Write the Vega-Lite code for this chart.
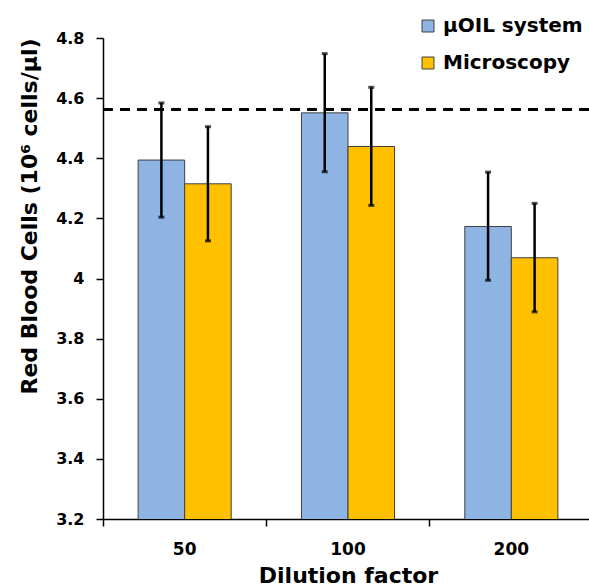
{
  "$schema": "https://vega.github.io/schema/vega-lite/v6.json",
  "width": 486,
  "height": 481,
  "autosize": {"type": "none"},
  "padding": {"left": 103, "top": 38, "right": 0, "bottom": 69},
  "config": {
    "font": "DejaVu Sans",
    "view": {"stroke": null},
    "axis": {"grid": false, "domainColor": "black", "tickColor": "black", "labelColor": "black", "titleColor": "black", "labelFontWeight": "bold", "titleFontWeight": "bold", "domainWidth": 1.5, "tickWidth": 1.5}
  },
  "datasets": {
    "bars": [
      {"dilution": "50", "method": "μOIL system", "value": 4.394, "lo": 4.204, "hi": 4.584},
      {"dilution": "50", "method": "Microscopy", "value": 4.315, "lo": 4.125, "hi": 4.505},
      {"dilution": "100", "method": "μOIL system", "value": 4.551, "lo": 4.355, "hi": 4.748},
      {"dilution": "100", "method": "Microscopy", "value": 4.439, "lo": 4.243, "hi": 4.636},
      {"dilution": "200", "method": "μOIL system", "value": 4.173, "lo": 3.994, "hi": 4.354},
      {"dilution": "200", "method": "Microscopy", "value": 4.069, "lo": 3.889, "hi": 4.25}
    ],
    "ref": [{"ref": 4.5625}]
  },
  "layer": [
    {
      "data": {"name": "bars"},
      "mark": {"type": "bar", "stroke": "#404040", "strokeWidth": 1, "clip": true},
      "encoding": {
        "x": {"field": "dilution", "type": "nominal", "sort": ["50", "100", "200"],
              "scale": {"paddingInner": 0, "paddingOuter": 0, "range": [0, 490]},
              "axis": {"orient": "bottom", "bandPosition": 0, "labels": false, "title": null, "ticks": true, "tickSize": 7, "domain": true}},
        "xOffset": {"field": "method", "type": "nominal", "sort": ["μOIL system", "Microscopy"],
                    "scale": {"paddingInner": 0, "paddingOuter": 0.755}},
        "y": {"field": "value", "type": "quantitative", "title": "Red Blood Cells (10⁶ cells/μl)",
              "scale": {"domain": [3.2, 4.8], "zero": false, "nice": false},
              "axis": {"values": [3.2, 3.4, 3.6, 3.8, 4, 4.2, 4.4, 4.6, 4.8], "format": "~g", "tickSize": 7, "labelPadding": 12, "labelFontSize": 16, "titleFontSize": 22, "titleAnchor": "end", "titlePadding": 14}},
        "color": {"field": "method", "type": "nominal", "sort": ["μOIL system", "Microscopy"],
                  "scale": {"domain": ["μOIL system", "Microscopy"], "range": ["#8EB4E3", "#FFC000"]},
                  "legend": {"orient": "none", "legendX": 315, "legendY": -22, "title": null, "symbolType": "square", "symbolSize": 144, "symbolStrokeColor": "#404040", "symbolStrokeWidth": 1, "symbolOpacity": 1, "labelFontSize": 20, "labelFontWeight": "bold", "labelColor": "black", "labelOffset": 5, "rowPadding": 17, "padding": 0}}
      }
    },
    {
      "data": {"name": "bars"},
      "mark": {"type": "rule", "color": "black", "strokeWidth": 2.5},
      "encoding": {
        "x": {"field": "dilution", "type": "nominal", "sort": ["50", "100", "200"],
              "axis": {"orient": "bottom", "bandPosition": 0.5, "ticks": false, "domain": false, "labels": true, "labelAngle": 0, "labelFontSize": 17, "labelPadding": 22, "title": "Dilution factor", "titleFontSize": 22, "titlePadding": 8}},
        "xOffset": {"field": "method", "type": "nominal", "sort": ["μOIL system", "Microscopy"]},
        "y": {"field": "lo", "type": "quantitative", "title": "Red Blood Cells (10⁶ cells/μl)"},
        "y2": {"field": "hi"}
      }
    },
    {
      "data": {"name": "bars"},
      "mark": {"type": "tick", "color": "black", "size": 6, "thickness": 3},
      "encoding": {
        "x": {"field": "dilution", "type": "nominal", "sort": ["50", "100", "200"], "axis": null},
        "xOffset": {"field": "method", "type": "nominal", "sort": ["μOIL system", "Microscopy"]},
        "y": {"field": "lo", "type": "quantitative", "title": "Red Blood Cells (10⁶ cells/μl)"}
      }
    },
    {
      "data": {"name": "bars"},
      "mark": {"type": "tick", "color": "black", "size": 6, "thickness": 3},
      "encoding": {
        "x": {"field": "dilution", "type": "nominal", "sort": ["50", "100", "200"], "axis": null},
        "xOffset": {"field": "method", "type": "nominal", "sort": ["μOIL system", "Microscopy"]},
        "y": {"field": "hi", "type": "quantitative", "title": "Red Blood Cells (10⁶ cells/μl)"}
      }
    },
    {
      "data": {"name": "ref"},
      "mark": {"type": "rule", "color": "black", "strokeWidth": 3, "strokeDash": [10, 7]},
      "encoding": {
        "y": {"field": "ref", "type": "quantitative", "title": "Red Blood Cells (10⁶ cells/μl)"}
      }
    }
  ],
  "resolve": {"axis": {"x": "independent"}}
}
